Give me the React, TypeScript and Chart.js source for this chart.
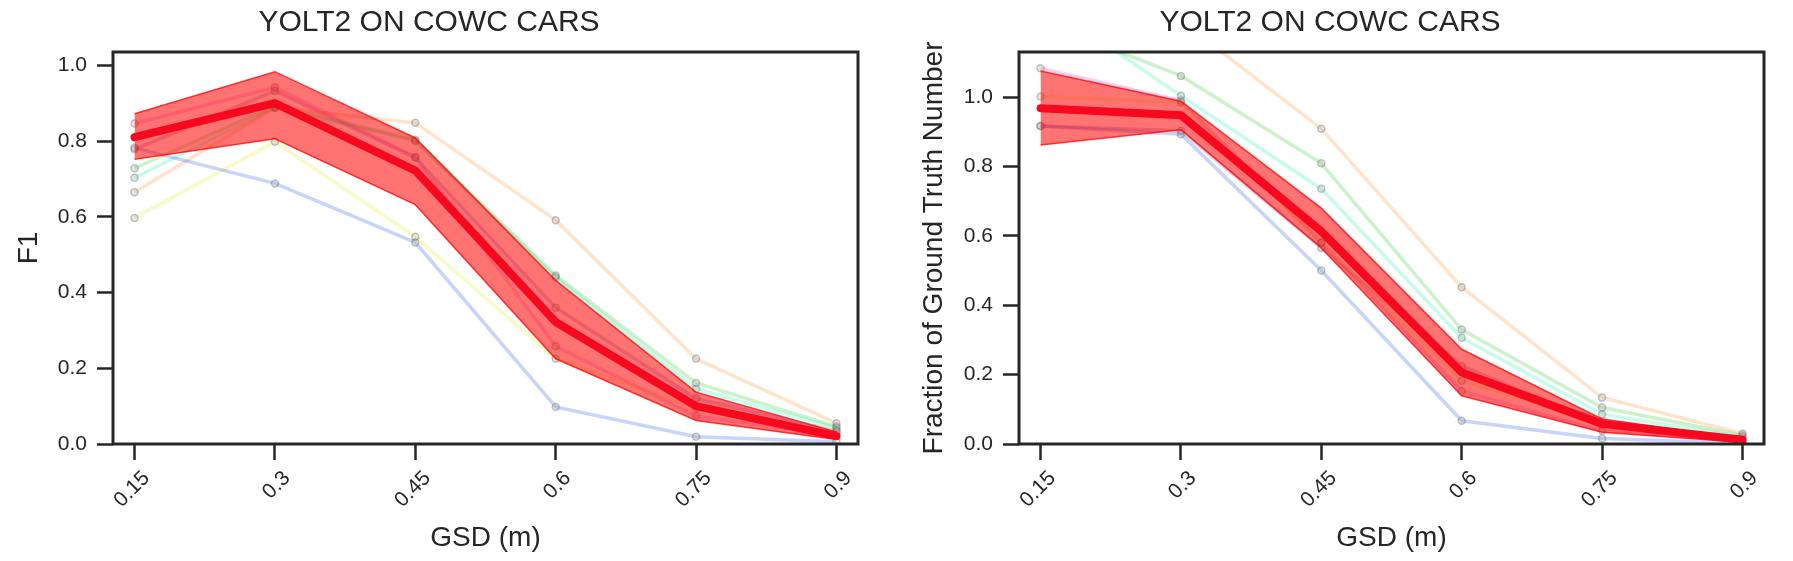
import React, { useEffect, useRef } from 'react';
import { Chart, registerables } from 'chart.js';

Chart.register(...registerables);

// ---------- data ----------
const gsd = [0.15, 0.3, 0.45, 0.6, 0.75, 0.9];
const gsdLabels = ['0.15', '0.3', '0.45', '0.6', '0.75', '0.9'];
const yTickValues = [0, 0.2, 0.4, 0.6, 0.8, 1.0];
const chartTitle = 'YOLT2 ON COWC CARS';
const xTitle = 'GSD (m)';
const leftYTitle = 'F1';
const rightYTitle = 'Fraction of Ground Truth Number';

const seriesColors = [
  'rgba(34,85,238,0.25)',   // blue
  'rgba(255,144,48,0.25)',  // orange
  'rgba(51,204,51,0.25)',   // green
  'rgba(34,238,170,0.25)',  // cyan
  'rgba(221,238,34,0.25)',  // yellow
  'rgba(238,68,204,0.25)',  // pink
  'rgba(102,68,170,0.25)',  // purple
];

// F1 (left)
const f1Blue = [0.782, 0.688, 0.532, 0.098, 0.019, 0.006];
const f1Orange = [0.665, 0.888, 0.848, 0.591, 0.225, 0.055];
const f1Green = [0.728, 0.893, 0.803, 0.445, 0.161, 0.046];
const f1Cyan = [0.703, 0.888, 0.8, 0.44, 0.146, 0.042];
const f1Yellow = [0.597, 0.798, 0.547, 0.225, 0.094, 0.034];
const f1Pink = [0.846, 0.942, 0.758, 0.258, 0.074, 0.024];
const f1Purple = [0.778, 0.932, 0.756, 0.36, 0.12, 0.034];
const f1Mean = [0.81, 0.9, 0.722, 0.322, 0.1, 0.021];
const f1Upper = [0.872, 0.983, 0.808, 0.432, 0.137, 0.032];
const f1Lower = [0.752, 0.806, 0.632, 0.225, 0.062, 0.012];

// Fraction of ground truth number (right)
const frBlue = [0.917, 0.893, 0.5, 0.067, 0.016, 0.002];
const frOrange = [1.3, 1.22, 0.909, 0.452, 0.134, 0.03];
const frGreen = [1.22, 1.061, 0.809, 0.33, 0.105, 0.025];
const frCyan = [1.28, 1.004, 0.736, 0.306, 0.086, 0.02];
const frYellow = [1.002, 0.985, 0.58, 0.182, 0.064, 0.015];
const frPink = [1.083, 0.99, 0.58, 0.153, 0.038, 0.008];
const frPurple = [0.917, 0.903, 0.565, 0.225, 0.055, 0.01];
const frMean = [0.968, 0.948, 0.613, 0.206, 0.058, 0.012];
const frUpper = [1.075, 0.988, 0.68, 0.273, 0.072, 0.016];
const frLower = [0.862, 0.906, 0.565, 0.139, 0.034, 0.005];

const xMin = 0.127;
const xMax = 0.923;

// ---------- chart helpers ----------
const TEXT = '#262626';
const FONT = "'Liberation Sans', Arial, sans-serif";

const framePlugin = {
  id: 'frame',
  afterDatasetsDraw(chart: any) {
    const { ctx, chartArea: a } = chart;
    ctx.save();
    ctx.strokeStyle = TEXT;
    ctx.lineWidth = 3;
    ctx.strokeRect(a.left, a.top, a.right - a.left, a.bottom - a.top);
    ctx.restore();
  },
};

const pts = (ys: number[]) => ys.map((y, i) => ({ x: gsd[i], y }));

function buildConfig(opts: {
  thin: number[][];
  mean: number[];
  upper: number[];
  lower: number[];
  yMax: number;
  yTitle: string;
  yAxisWidth: number;
  rightPad: number;
  yTitlePad: number;
}) {
  const thinSets = opts.thin.map((s, i) => ({
    data: pts(s),
    borderColor: seriesColors[i],
    borderWidth: 3.5,
    pointRadius: 3.5,
    pointBackgroundColor: 'rgba(128,128,128,0.18)',
    pointBorderColor: 'rgba(110,110,110,0.4)',
    pointBorderWidth: 1.5,
    fill: false,
    order: 5,
  }));
  const n = thinSets.length;
  const datasets: any[] = [
    ...thinSets,
    {
      data: pts(opts.lower),
      borderColor: 'rgba(255,0,0,0.75)',
      borderWidth: 1.5,
      pointRadius: 0,
      fill: false,
      order: 2,
    },
    {
      data: pts(opts.upper),
      borderColor: 'rgba(255,0,0,0.75)',
      borderWidth: 1.5,
      pointRadius: 0,
      backgroundColor: 'rgba(255,0,0,0.55)',
      fill: n,
      order: 2,
    },
    {
      data: pts(opts.mean),
      borderColor: 'rgb(248,8,30)',
      borderWidth: 8,
      borderCapStyle: 'round',
      borderJoinStyle: 'round',
      pointRadius: 0,
      fill: false,
      order: 0,
    },
  ];

  return {
    type: 'line',
    data: { datasets },
    plugins: [framePlugin],
    options: {
      responsive: false,
      maintainAspectRatio: false,
      animation: false,
      devicePixelRatio: 1,
      layout: { padding: { left: 0, right: opts.rightPad, top: 0, bottom: 0 } },
      plugins: {
        legend: { display: false },
        tooltip: { enabled: false },
        title: {
          display: true,
          text: chartTitle,
          color: TEXT,
          font: { family: FONT, size: 30, weight: 'normal' },
          padding: { top: 5, bottom: 11 },
        },
      },
      scales: {
        x: {
          type: 'linear',
          min: xMin,
          max: xMax,
          afterBuildTicks: (scale: any) => {
            scale.ticks = gsd.map((v) => ({ value: v }));
          },
          afterFit: (scale: any) => {
            scale.height = 117;
          },
          grid: {
            display: true,
            drawOnChartArea: false,
            drawTicks: true,
            tickLength: 16,
            tickWidth: 2.5,
            tickColor: TEXT,
          },
          border: { display: false },
          ticks: {
            autoSkip: false,
            maxRotation: 45,
            minRotation: 45,
            padding: 6,
            labelOffset: 12,
            color: TEXT,
            font: { family: FONT, size: 21 },
            callback: (_v: any, i: number) => gsdLabels[i],
          },
          title: {
            display: true,
            text: xTitle,
            color: TEXT,
            font: { family: FONT, size: 28 },
            padding: { top: 0, bottom: 6 },
          },
        },
        y: {
          type: 'linear',
          min: 0,
          max: opts.yMax,
          afterBuildTicks: (scale: any) => {
            scale.ticks = yTickValues.map((v) => ({ value: v }));
          },
          afterFit: (scale: any) => {
            scale.width = opts.yAxisWidth;
          },
          grid: {
            display: true,
            drawOnChartArea: false,
            drawTicks: true,
            tickLength: 16,
            tickWidth: 2.5,
            tickColor: TEXT,
          },
          border: { display: false },
          ticks: {
            padding: 10,
            color: TEXT,
            font: { family: FONT, size: 21 },
            callback: (v: any) => Number(v).toFixed(1),
          },
          title: {
            display: true,
            text: opts.yTitle,
            color: TEXT,
            font: { family: FONT, size: 28 },
            padding: { top: opts.yTitlePad, bottom: 0 },
          },
        },
      },
    },
  };
}

export default function App() {
  const leftRef = useRef<HTMLCanvasElement | null>(null);
  const rightRef = useRef<HTMLCanvasElement | null>(null);

  useEffect(() => {
    document.body.style.margin = '0';
    const c1 = new Chart(
      leftRef.current as HTMLCanvasElement,
      buildConfig({
        thin: [f1Blue, f1Orange, f1Green, f1Cyan, f1Yellow, f1Pink, f1Purple],
        mean: f1Mean,
        upper: f1Upper,
        lower: f1Lower,
        yMax: 1.035,
        yTitle: leftYTitle,
        yAxisWidth: 113,
        rightPad: 38,
        yTitlePad: 12,
      }) as any
    );
    const c2 = new Chart(
      rightRef.current as HTMLCanvasElement,
      buildConfig({
        thin: [frBlue, frOrange, frGreen, frCyan, frYellow, frPink, frPurple],
        mean: frMean,
        upper: frUpper,
        lower: frLower,
        yMax: 1.13,
        yTitle: rightYTitle,
        yAxisWidth: 123,
        rightPad: 29,
        yTitlePad: 21,
      }) as any
    );
    return () => {
      c1.destroy();
      c2.destroy();
    };
  }, []);

  return (
    <div style={{ position: 'relative', width: 1793, height: 561, background: '#fff' }}>
      <canvas
        ref={leftRef}
        width={896}
        height={561}
        style={{ position: 'absolute', left: 0, top: 0, width: 896, height: 561 }}
      />
      <canvas
        ref={rightRef}
        width={897}
        height={561}
        style={{ position: 'absolute', left: 896, top: 0, width: 897, height: 561 }}
      />
    </div>
  );
}
